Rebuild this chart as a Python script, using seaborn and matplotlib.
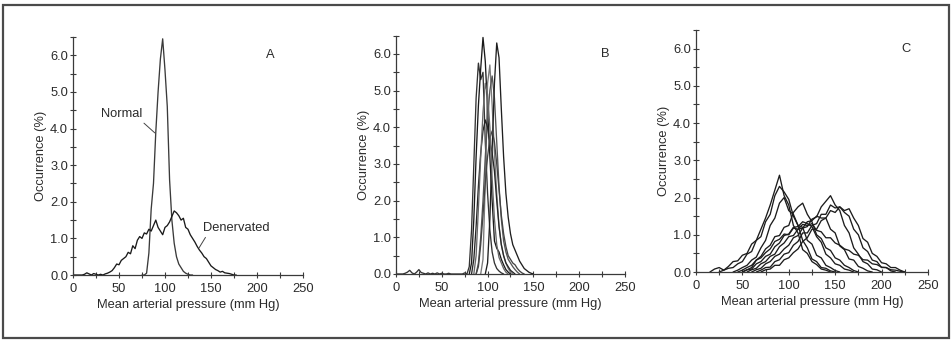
import matplotlib
matplotlib.use("Agg")
import pandas as pd
import matplotlib.pyplot as plt
import seaborn as sns
from matplotlib.patches import Rectangle
from matplotlib.ticker import MultipleLocator, FormatStrFormatter

# 혈압 분포 히스토그램 (A: 정상/탈신경, B: 정상 개체들, C: 탈신경 개체들)

# A 패널: 2.5 mmHg 구간
A_STEP = 2.5
A_NORMAL_START = 75.0
A_NORMAL = [0.0, 0.0, 0.05, 0.6, 1.8, 2.5, 3.9, 5.0, 5.9, 6.45, 5.6, 4.6, 2.6, 1.5,
            0.87, 0.5, 0.3, 0.2, 0.1, 0.05, 0.02, 0.0, 0.0]
A_DENERV_START = 0.0
A_DENERV = [0.0, 0.0, 0.0, 0.0, 0.0, 0.02, 0.06, 0.03, 0.0, 0.04, 0.02, 0.0, 0.02, 0.0,
            0.03, 0.05, 0.08, 0.12, 0.2, 0.3, 0.28, 0.4, 0.45, 0.5, 0.62, 0.58, 0.8, 0.72,
            0.95, 1.05, 1.0, 1.15, 1.12, 1.25, 1.2, 1.35, 1.5, 1.3, 1.2, 1.1, 1.3, 1.35,
            1.45, 1.6, 1.75, 1.7, 1.62, 1.5, 1.55, 1.3, 1.25, 1.1, 1.0, 0.9, 0.78, 0.68,
            0.6, 0.5, 0.45, 0.35, 0.25, 0.2, 0.15, 0.12, 0.08, 0.1, 0.06, 0.05, 0.04,
            0.02, 0.0, 0.0]

# B 패널: 2.5 mmHg 구간, 개체별
B_STEP = 2.5
B1_START = 0.0
B1 = [0.0, 0.0, 0.0, 0.0, 0.02, 0.05, 0.1, 0.03, 0.0, 0.05, 0.12, 0.04, 0.02, 0.0,
      0.03, 0.0, 0.02, 0.0, 0.03, 0.0, 0.02, 0.0, 0.0, 0.02, 0.0, 0.0, 0.0, 0.0, 0.0,
      0.0, 0.03, 0.0, 0.2, 1.2, 3.0, 4.8, 5.75, 5.3, 5.5, 3.6, 2.2, 1.2, 0.6, 0.3,
      0.15, 0.08, 0.03, 0.0]
B2_START = 80.0
B2 = [0.0, 0.3, 1.5, 3.2, 4.6, 5.6, 6.45, 5.8, 4.5, 3.2, 2.0, 0.9, 0.7, 0.6, 0.4,
      0.25, 0.12, 0.05, 0.0]
B3_START = 92.5
B3 = [0.0, 0.4, 2.5, 5.2, 5.7, 4.6, 3.3, 2.2, 1.3, 0.8, 0.5, 0.3, 0.15, 0.05, 0.0]
B4_START = 87.5
B4 = [0.0, 0.3, 1.0, 2.0, 3.2, 4.2, 5.0, 5.4, 4.8, 3.6, 2.4, 1.5, 0.9, 0.6, 0.4, 0.3,
      0.2, 0.12, 0.05, 0.0]
B5_START = 97.5
B5 = [0.0, 0.3, 1.5, 3.4, 5.2, 6.3, 5.9, 4.5, 3.2, 2.2, 1.55, 1.1, 0.8, 0.65, 0.5,
      0.35, 0.25, 0.15, 0.1, 0.05, 0.02, 0.0]
B6_START = 82.5
B6 = [0.0, 0.4, 1.3, 2.4, 3.3, 3.9, 4.2, 4.0, 3.6, 3.3, 2.8, 2.0, 1.3, 0.8, 0.5, 0.3,
      0.2, 0.1, 0.05, 0.0]
B7_START = 87.5
B7 = [0.0, 0.2, 0.8, 1.6, 2.5, 3.2, 3.7, 3.9, 3.6, 3.0, 2.3, 1.6, 1.1, 0.75, 0.5, 0.4,
      0.3, 0.25, 0.15, 0.08, 0.03, 0.0]
B8_START = 85.0
B8 = [0.0, 0.5, 1.8, 3.2, 4.4, 5.2, 4.9, 4.0, 2.6, 1.5, 0.8, 0.45, 0.3, 0.15, 0.05, 0.0]

# C 패널: 5 mmHg 구간, 개체별
C_STEP = 5.0
C1_START = 15.0
C1 = [0.0, 0.08, 0.12, 0.05, 0.15, 0.28, 0.3, 0.45, 0.5, 0.75, 0.85, 1.15, 1.45, 1.8,
      2.2, 2.6, 2.05, 1.8, 1.25, 1.05, 0.6, 0.5, 0.28, 0.2, 0.08, 0.05, 0.0]
C2_START = 25.0
C2 = [0.0, 0.05, 0.1, 0.12, 0.22, 0.28, 0.48, 0.55, 0.85, 0.95, 1.35, 1.55, 2.05, 2.3,
      2.15, 1.95, 1.5, 1.25, 0.85, 0.65, 0.35, 0.28, 0.12, 0.1, 0.03, 0.0]
C3_START = 40.0
C3 = [0.0, 0.05, 0.12, 0.18, 0.32, 0.4, 0.65, 0.85, 1.25, 1.45, 1.85, 2.0, 1.65, 1.55,
      1.25, 1.2, 0.85, 0.75, 0.45, 0.38, 0.18, 0.12, 0.04, 0.0]
C4_START = 50.0
C4 = [0.0, 0.06, 0.12, 0.32, 0.42, 0.62, 0.72, 0.95, 0.98, 1.2, 1.25, 1.6, 1.75, 1.85,
      1.55, 1.35, 1.0, 0.9, 0.65, 0.58, 0.38, 0.32, 0.18, 0.12, 0.04, 0.0]
C5_START = 45.0
C5 = [0.0, 0.05, 0.12, 0.18, 0.32, 0.38, 0.52, 0.62, 0.82, 0.88, 1.02, 1.0, 1.18, 1.15,
      1.28, 1.25, 1.3, 1.12, 1.08, 0.92, 0.92, 0.78, 0.72, 0.62, 0.58, 0.48, 0.45,
      0.33, 0.32, 0.22, 0.2, 0.13, 0.12, 0.06, 0.05, 0.02, 0.0]
C6_START = 60.0
C6 = [0.0, 0.06, 0.1, 0.22, 0.28, 0.42, 0.48, 0.62, 0.72, 0.92, 0.98, 1.18, 1.22, 1.42,
      1.48, 1.75, 1.9, 2.05, 1.8, 1.65, 1.25, 1.05, 0.65, 0.48, 0.28, 0.22, 0.08, 0.06,
      0.0]
C7_START = 65.0
C7 = [0.0, 0.05, 0.12, 0.13, 0.28, 0.33, 0.48, 0.52, 0.72, 0.82, 1.05, 1.05, 1.25, 1.3,
      1.55, 1.55, 1.8, 1.72, 1.75, 1.6, 1.5, 1.15, 1.0, 0.65, 0.55, 0.32, 0.28, 0.12,
      0.12, 0.03, 0.0]
C8_START = 70.0
C8 = [0.0, 0.06, 0.08, 0.18, 0.18, 0.33, 0.38, 0.52, 0.62, 0.82, 0.92, 1.15, 1.15, 1.38,
      1.45, 1.65, 1.6, 1.75, 1.65, 1.7, 1.45, 1.25, 0.9, 0.8, 0.5, 0.42, 0.25, 0.22,
      0.12, 0.12, 0.05, 0.0]
C9_START = 55.0
C9 = [0.0, 0.06, 0.1, 0.22, 0.28, 0.42, 0.48, 0.68, 0.78, 0.95, 0.98, 1.15, 1.18, 1.35,
      1.38, 1.5, 1.45, 1.45, 1.15, 1.05, 0.7, 0.6, 0.35, 0.32, 0.15, 0.1, 0.03, 0.0]
C10_START = 50.0
C10 = [0.0, 0.06, 0.08, 0.22, 0.28, 0.42, 0.48, 0.68, 0.78, 0.98, 1.02, 1.2, 1.22, 1.35,
       1.3, 1.22, 0.95, 0.8, 0.48, 0.38, 0.22, 0.18, 0.08, 0.05, 0.0]


# 구간 시작값 + 값 목록 -> long format DataFrame
def to_frame(curves, step):
    rows = []
    for name, start, values in curves:
        for i, v in enumerate(values):
            rows.append({"curve": name, "pressure": start + i * step, "occurrence": v})
    return pd.DataFrame(rows)


df_a = to_frame([("Normal", A_NORMAL_START, A_NORMAL),
                 ("Denervated", A_DENERV_START, A_DENERV)], A_STEP)
df_b = to_frame([("B1", B1_START, B1), ("B2", B2_START, B2), ("B3", B3_START, B3),
                 ("B4", B4_START, B4), ("B5", B5_START, B5), ("B6", B6_START, B6),
                 ("B7", B7_START, B7), ("B8", B8_START, B8)], B_STEP)
df_c = to_frame([("C1", C1_START, C1), ("C2", C2_START, C2), ("C3", C3_START, C3),
                 ("C4", C4_START, C4), ("C5", C5_START, C5), ("C6", C6_START, C6),
                 ("C7", C7_START, C7), ("C8", C8_START, C8), ("C9", C9_START, C9),
                 ("C10", C10_START, C10)], C_STEP)

sns.set_style("ticks")
plt.rcParams["font.family"] = ["Liberation Sans", "DejaVu Sans"]
TEXT = "#2b2b2b"
FS = 9.3

fig = plt.figure(figsize=(9.53, 3.41), dpi=100)
ax_a = fig.add_axes([0.0766, 0.1935, 0.2413, 0.698])
ax_b = fig.add_axes([0.4155, 0.1965, 0.2403, 0.699])
ax_c = fig.add_axes([0.7303, 0.2023, 0.2434, 0.7097])

pal_a = {"Normal": "#3a3a3a", "Denervated": "#1a1a1a"}
pal_b = {"B1": "#333333", "B2": "#1a1a1a", "B3": "#7a7a7a", "B4": "#555555",
         "B5": "#1f1f1f", "B6": "#262626", "B7": "#444444", "B8": "#666666"}
pal_c = {c: "#1c1c1c" for c in df_c["curve"].unique()}

for ax, df, pal in [(ax_a, df_a, pal_a), (ax_b, df_b, pal_b), (ax_c, df_c, pal_c)]:
    sns.lineplot(data=df, x="pressure", y="occurrence", hue="curve", units="curve",
                 estimator=None, palette=pal, linewidth=0.95, legend=False, ax=ax)


def style_axis(ax, letter, letter_x):
    ax.set_xlim(0, 250)
    ax.set_ylim(0, 6.5)
    sns.despine(ax=ax)
    for s in ["left", "bottom"]:
        ax.spines[s].set_color("#3a3a3a")
        ax.spines[s].set_linewidth(0.9)
    ax.xaxis.set_major_locator(MultipleLocator(50))
    ax.xaxis.set_minor_locator(MultipleLocator(25))
    ax.yaxis.set_major_locator(MultipleLocator(1))
    ax.yaxis.set_minor_locator(MultipleLocator(0.5))
    ax.yaxis.set_major_formatter(FormatStrFormatter("%.1f"))
    ax.tick_params(which="both", direction="inout", length=5, width=0.8,
                   color="#3a3a3a", labelcolor=TEXT, labelsize=FS)
    ax.tick_params(axis="x", pad=3)
    ax.tick_params(axis="y", pad=1)
    ax.set_xlabel("Mean arterial pressure (mm Hg)", fontsize=FS, color=TEXT, labelpad=3)
    ax.set_ylabel("Occurrence (%)", fontsize=FS, color=TEXT, labelpad=2)
    ax.text(letter_x, 6.0, letter, fontsize=FS, color=TEXT, ha="center", va="center")


style_axis(ax_a, "A", 214)
style_axis(ax_b, "B", 228)
style_axis(ax_c, "C", 226)

ax_a.annotate("Normal", xy=(89, 3.88), xytext=(53, 4.4), fontsize=FS, color=TEXT,
              ha="center", va="center",
              arrowprops=dict(arrowstyle="-", color="#444444", lw=0.7,
                              relpos=(0.95, 0.0), shrinkA=0, shrinkB=0))
ax_a.annotate("Denervated", xy=(137, 0.74), xytext=(178, 1.28), fontsize=FS, color=TEXT,
              ha="center", va="center",
              arrowprops=dict(arrowstyle="-", color="#444444", lw=0.7,
                              relpos=(0.06, 0.0), shrinkA=0, shrinkB=0))

# 전체 테두리
fig.patches.append(Rectangle((0.0035, 0.009), 0.9925, 0.976, transform=fig.transFigure,
                             fill=False, edgecolor="#4a4a4a", linewidth=1.6))

fig.savefig("out.png", dpi=100)
